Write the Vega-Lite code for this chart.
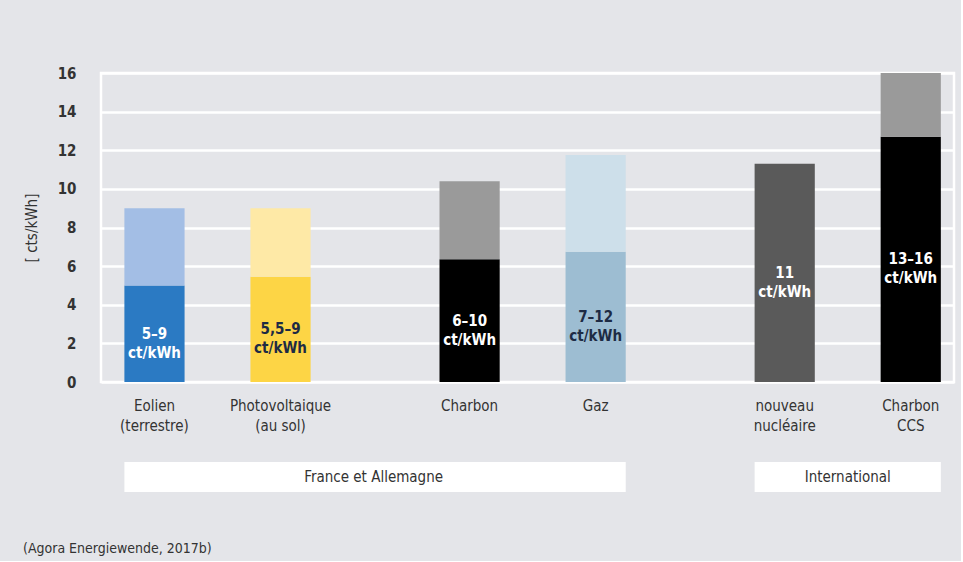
{
  "$schema": "https://vega.github.io/schema/vega-lite/v6.json",
  "background": "#e4e5e9",
  "padding": {"left": 22, "top": 64, "right": 5, "bottom": 5},
  "config": {
    "font": "DejaVu Sans Condensed",
    "view": {"stroke": null},
    "text": {"font": "DejaVu Sans Condensed"},
    "axisY": {
      "values": [0, 2, 4, 6, 8, 10, 12, 14, 16],
      "grid": true,
      "gridColor": "white",
      "gridWidth": 2.5,
      "gridOpacity": 1,
      "domain": false,
      "ticks": false,
      "tickSize": 0,
      "labelPadding": 25,
      "labelFontSize": 15,
      "labelFontWeight": "bold",
      "labelColor": "#333333",
      "labelFont": "DejaVu Sans Condensed",
      "labelOverlap": false,
      "titleFont": "DejaVu Sans Condensed",
      "titleFontSize": 15,
      "titleFontWeight": "normal",
      "titleColor": "#333333",
      "titlePadding": 18
    }
  },
  "datasets": {
    "couts": [
      {"tech": "Eolien|(terrestre)", "serie": "Eolien bas", "from": 0, "to": 5, "label": "5–9|ct/kWh"},
      {"tech": "Eolien|(terrestre)", "serie": "Eolien haut", "from": 5, "to": 9},
      {"tech": "Photovoltaique|(au sol)", "serie": "PV bas", "from": 0, "to": 5.45, "label": "5,5–9|ct/kWh"},
      {"tech": "Photovoltaique|(au sol)", "serie": "PV haut", "from": 5.45, "to": 9},
      {"tech": "Charbon", "serie": "Charbon bas", "from": 0, "to": 6.35, "label": "6–10|ct/kWh"},
      {"tech": "Charbon", "serie": "Charbon haut", "from": 6.35, "to": 10.4},
      {"tech": "Gaz", "serie": "Gaz bas", "from": 0, "to": 6.75, "label": "7–12|ct/kWh"},
      {"tech": "Gaz", "serie": "Gaz haut", "from": 6.75, "to": 11.75},
      {"tech": "nouveau|nucléaire", "serie": "Nucléaire", "from": 0, "to": 11.3, "label": "11|ct/kWh"},
      {"tech": "Charbon|CCS", "serie": "CCS bas", "from": 0, "to": 12.7, "label": "13–16|ct/kWh"},
      {"tech": "Charbon|CCS", "serie": "CCS haut", "from": 12.7, "to": 16}
    ],
    "groupes": [
      {"groupe": "France et Allemagne", "debut": "Eolien|(terrestre)", "fin": "Gaz"},
      {"groupe": "International", "debut": "nouveau|nucléaire", "fin": "Charbon|CCS"}
    ]
  },
  "title": {
    "text": "(Agora Energiewende, 2017b)",
    "orient": "bottom",
    "anchor": "start",
    "frame": "bounds",
    "fontSize": 14,
    "fontWeight": "normal",
    "color": "#333333",
    "offset": 50
  },
  "spacing": 27,
  "vconcat": [
    {
      "width": 853,
      "height": 309,
      "view": {"stroke": "white", "strokeWidth": 2.5},
      "data": {"name": "couts"},
      "layer": [
        {
          "mark": {"type": "bar"},
          "encoding": {
            "x": {
              "field": "tech",
              "type": "nominal",
              "sort": null,
              "scale": {
                "type": "band",
                "domain": ["Eolien|(terrestre)", "_1", "Photovoltaique|(au sol)", "_2", "_3", "Charbon", "_4", "Gaz", "_5", "_6", "nouveau|nucléaire", "_7", "Charbon|CCS"],
                "paddingInner": 0.045,
                "paddingOuter": 0.29,
                "align": 0.64
              },
              "axis": {
                "title": null,
                "labelExpr": "indexof(datum.value, '_') === 0 ? '' : split(datum.value, '|')",
                "domain": false,
                "ticks": false,
                "grid": false,
                "labelAngle": 0,
                "labelPadding": 16,
                "labelFontSize": 15,
                "labelLineHeight": 20,
                "labelColor": "#333333",
                "labelFont": "DejaVu Sans Condensed"
              }
            },
            "y": {
              "field": "from",
              "type": "quantitative",
              "scale": {"domain": [0, 16], "nice": false, "zero": true},
              "axis": {"title": "[ cts/kWh]", "values": [0, 2, 4, 6, 8, 10, 12, 14, 16]}
            },
            "y2": {"field": "to"},
            "color": {
              "field": "serie",
              "type": "nominal",
              "legend": null,
              "scale": {
                "domain": ["Eolien bas", "Eolien haut", "PV bas", "PV haut", "Charbon bas", "Charbon haut", "Gaz bas", "Gaz haut", "Nucléaire", "CCS bas", "CCS haut"],
                "range": ["#2b7ac3", "#a3bee5", "#fdd545", "#fee9a6", "#000000", "#9a9a9a", "#9dbdd2", "#cddfea", "#5a5a5a", "#000000", "#9a9a9a"]
              }
            }
          }
        },
        {
          "transform": [
            {"filter": "isValid(datum.label)"},
            {"fold": ["from", "to"], "as": ["borne", "v"]}
          ],
          "mark": {
            "type": "text",
            "fontSize": 15,
            "fontWeight": "bold",
            "lineBreak": "|",
            "lineHeight": 19,
            "baseline": "middle",
            "align": "center"
          },
          "encoding": {
            "x": {"field": "tech", "type": "nominal", "sort": null},
            "y": {
              "field": "v",
              "type": "quantitative",
              "aggregate": "mean",
              "axis": {"title": "[ cts/kWh]", "values": [0, 2, 4, 6, 8, 10, 12, 14, 16]}
            },
            "text": {"field": "label", "type": "nominal"},
            "color": {
              "condition": {"test": "datum.tech === 'Gaz' || datum.tech === 'Photovoltaique|(au sol)'", "value": "#1d2b44"},
              "value": "white"
            }
          }
        }
      ]
    },
    {
      "width": 853,
      "height": 30,
      "view": {"stroke": null},
      "data": {"name": "groupes"},
      "layer": [
        {
          "mark": {"type": "rect", "color": "white"},
          "encoding": {
            "x": {
              "field": "debut",
              "type": "nominal",
              "bandPosition": 0,
              "scale": {
                "type": "band",
                "domain": ["Eolien|(terrestre)", "_1", "Photovoltaique|(au sol)", "_2", "_3", "Charbon", "_4", "Gaz", "_5", "_6", "nouveau|nucléaire", "_7", "Charbon|CCS"],
                "paddingInner": 0.045,
                "paddingOuter": 0.29,
                "align": 0.64
              },
              "axis": null
            },
            "x2": {"field": "fin", "bandPosition": 1}
          }
        },
        {
          "transform": [{"filter": "datum.groupe === 'France et Allemagne'"}],
          "mark": {"type": "text", "fontSize": 15, "color": "#333333", "align": "center", "baseline": "middle"},
          "encoding": {
            "x": {"datum": "_2", "type": "nominal", "bandPosition": 1},
            "text": {"field": "groupe", "type": "nominal"}
          }
        },
        {
          "transform": [{"filter": "datum.groupe === 'International'"}],
          "mark": {"type": "text", "fontSize": 15, "color": "#333333", "align": "center", "baseline": "middle"},
          "encoding": {
            "x": {"datum": "_7", "type": "nominal", "bandPosition": 0.5},
            "text": {"field": "groupe", "type": "nominal"}
          }
        }
      ]
    }
  ]
}
